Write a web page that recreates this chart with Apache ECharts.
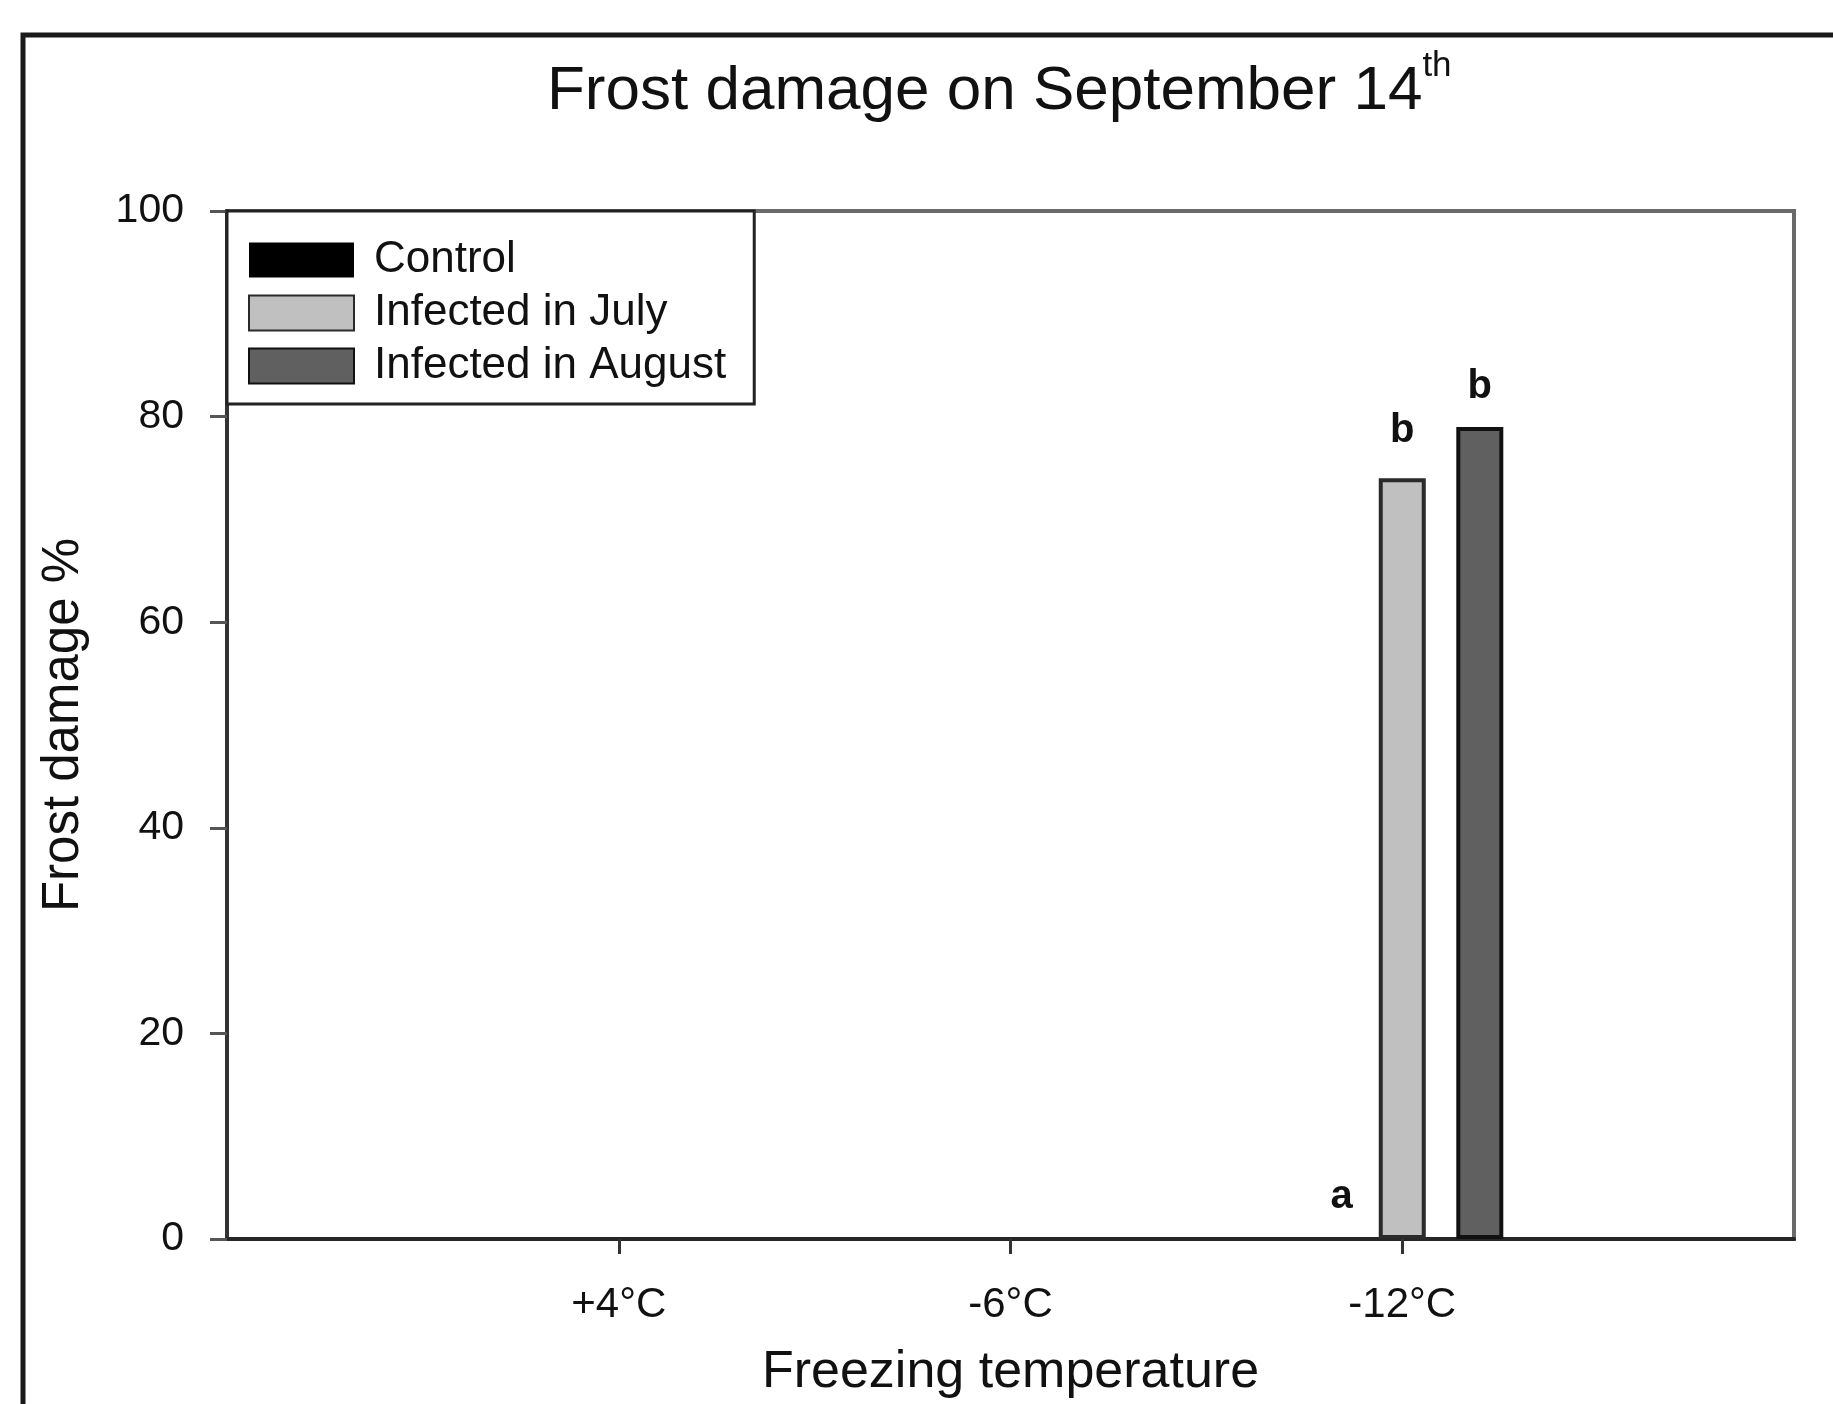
<!DOCTYPE html>
<html>
<head>
<meta charset="utf-8">
<script src="https://cdn.jsdelivr.net/npm/echarts@6/dist/echarts.min.js"></script>
<style>
  html, body { margin: 0; padding: 0; background: #fff; }
  #main { width: 1833px; height: 1404px; }
</style>
</head>
<body>
<div id="main"></div>
<script>
// categories on the x axis (empty slots pad both ends)
const categories = ['', '+4°C', '-6°C', '-12°C', '']
const seriesNames = ['Control', 'Infected in July', 'Infected in August']
// frost damage %, only measured at -12°C
const control = [null, null, null, 0, null]
const infectedJuly = [null, null, null, 74, null]
const infectedAugust = [null, null, null, 79, null]
// significance letters above bars
const controlLetters = ['', '', '', 'a', '']
const julyLetters = ['', '', '', 'b', '']
const augustLetters = ['', '', '', 'b', '']
const yTicks = [0, 20, 40, 60, 80, 100]

const font = '"Liberation Sans", Arial, sans-serif'
const chart = echarts.init(document.getElementById('main'))

const letterLabel = function (letters, distance, offset) {
  return {
    show: true,
    position: 'top',
    distance: distance,
    offset: offset || [0, 0],
    fontFamily: font,
    fontSize: 40,
    fontWeight: 'bold',
    color: '#111',
    formatter: function (p) { return letters[p.dataIndex] }
  }
}

const option = {
  animation: false,
  backgroundColor: '#fff',
  graphic: [
    {
      type: 'rect',
      shape: { x: 23, y: 35, width: 1900, height: 1500 },
      style: { fill: null, stroke: '#1a1a1a', lineWidth: 5 },
      silent: true
    }
  ],
  title: {
    text: '{m|Frost damage on September 14}{s|th}',
    left: 542,
    top: 44,
    textStyle: {
      fontWeight: 'normal',
      rich: {
        m: { fontFamily: font, fontSize: 62, lineHeight: 86, fontWeight: 'normal', color: '#111' },
        s: { fontFamily: font, fontSize: 35, lineHeight: 16, fontWeight: 'normal', verticalAlign: 'top', color: '#111' }
      }
    }
  },
  legend: {
    orient: 'vertical',
    left: 227,
    top: 211,
    padding: [27, 28, 16, 21],
    itemWidth: 105,
    itemHeight: 35,
    itemGap: 9,
    backgroundColor: '#fff',
    borderColor: '#222',
    borderWidth: 3,
    icon: 'rect',
    textStyle: {
      fontFamily: font,
      fontSize: 44,
      lineHeight: 42,
      color: '#111',
      padding: [0, 0, 0, 15]
    },
    data: seriesNames
  },
  grid: {
    left: 227,
    top: 211,
    right: 39,
    bottom: 161,
    show: true,
    borderColor: '#6a6a6a',
    borderWidth: 4
  },
  xAxis: {
    type: 'category',
    data: categories,
    boundaryGap: false,
    name: 'Freezing temperature',
    nameLocation: 'middle',
    nameGap: 108,
    nameTextStyle: { fontFamily: font, fontSize: 52, lineHeight: 52, color: '#111' },
    axisLine: { lineStyle: { color: '#262626', width: 4 } },
    axisTick: {
      length: 15,
      lineStyle: { color: '#333', width: 3 },
      interval: function (i) { return i > 0 && i < categories.length - 1 }
    },
    axisLabel: {
      interval: 0,
      margin: 45,
      fontFamily: font,
      fontSize: 42,
      lineHeight: 42,
      color: '#111'
    },
    splitLine: { show: false }
  },
  yAxis: {
    type: 'value',
    min: yTicks[0],
    max: yTicks[yTicks.length - 1],
    interval: 20,
    name: 'Frost damage %',
    nameLocation: 'middle',
    nameGap: 137,
    nameTextStyle: { fontFamily: font, fontSize: 51, lineHeight: 52, color: '#111' },
    axisLine: { show: true, lineStyle: { color: '#333', width: 4 } },
    axisTick: { show: true, length: 17, lineStyle: { color: '#555', width: 3 } },
    axisLabel: { margin: 43, fontFamily: font, fontSize: 41, color: '#111' },
    splitLine: { show: false }
  },
  series: [
    {
      name: seriesNames[0],
      type: 'bar',
      data: control,
      barWidth: 47,
      barGap: '65%',
      itemStyle: { color: '#000', borderColor: '#000', borderWidth: 0 },
      label: letterLabel(controlLetters, 22, [17, 0])
    },
    {
      name: seriesNames[1],
      type: 'bar',
      data: infectedJuly,
      barWidth: 47,
      barGap: '65%',
      itemStyle: { color: '#c0c0c0', borderColor: '#2a2a2a', borderWidth: 4 },
      label: letterLabel(julyLetters, 27)
    },
    {
      name: seriesNames[2],
      type: 'bar',
      data: infectedAugust,
      barWidth: 47,
      barGap: '65%',
      itemStyle: { color: '#606060', borderColor: '#111', borderWidth: 4 },
      label: letterLabel(augustLetters, 20)
    }
  ]
}

chart.setOption(option)
</script>
</body>
</html>
